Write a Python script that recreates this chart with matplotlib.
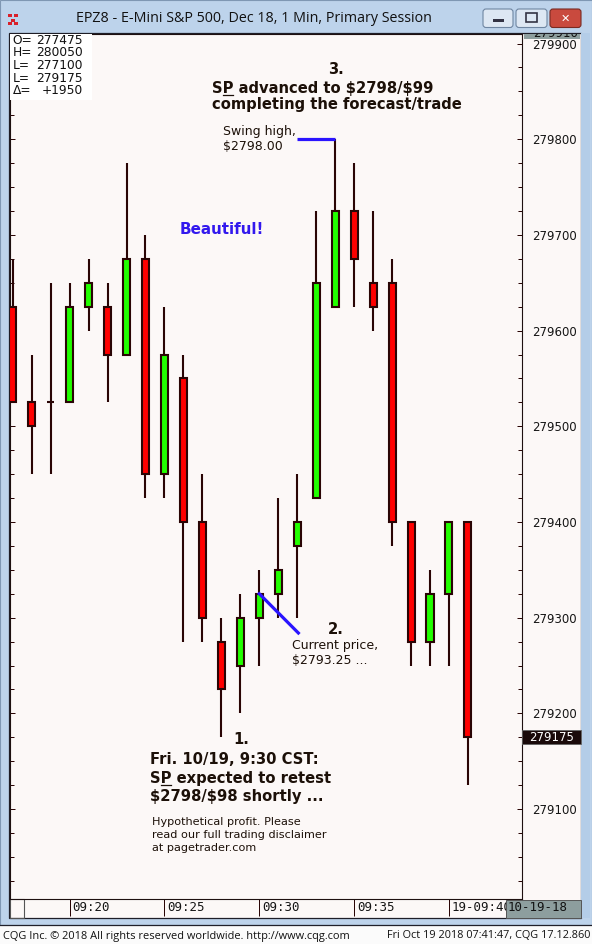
import numpy as np
import matplotlib.pyplot as plt
import matplotlib.transforms as mtransforms
from matplotlib.patches import Rectangle, FancyBboxPatch
from matplotlib.ticker import MultipleLocator, FormatStrFormatter

plt.rcParams['text.parse_math'] = False

# 1 min bars, EPZ8, prices in CQG units
bar_open  = [279625, 279525, 279525, 279525, 279625, 279625, 279575, 279675, 279450, 279550,
             279400, 279275, 279250, 279300, 279325, 279375, 279425, 279625, 279725, 279650,
             279650, 279400, 279275, 279325, 279400]
bar_high  = [279675, 279575, 279650, 279650, 279675, 279650, 279775, 279700, 279625, 279575,
             279450, 279300, 279325, 279350, 279425, 279450, 279725, 279800, 279775, 279725,
             279675, 279400, 279350, 279400, 279400]
bar_low   = [279525, 279450, 279450, 279525, 279600, 279525, 279575, 279425, 279425, 279275,
             279275, 279175, 279200, 279250, 279300, 279300, 279425, 279625, 279625, 279600,
             279375, 279250, 279250, 279250, 279125]
bar_close = [279525, 279500, 279525, 279625, 279650, 279575, 279675, 279450, 279575, 279400,
             279300, 279225, 279300, 279325, 279350, 279400, 279650, 279725, 279675, 279625,
             279400, 279275, 279325, 279400, 279175]

tick_bars = [3, 8, 13, 18, 23]
tick_labels = ['09:20', '09:25', '09:30', '09:35', '19-09:40']

swing_bars = [15, 17]
swing_high = 279800
current_bars = [13, 15.06]
current_line = [279325, 279284]

ohlc_names = ['O=', 'H=', 'L=', 'L=', '\u0394=']
ohlc_values = ['277475', '280050', '277100', '279175', '+1950']

UP = '#22ff00'
DOWN = '#ff0000'
EDGE = '#2a0505'
BG = '#fcf8f7'
FRAME = '#bdd3eb'
BLUE = '#2a14ff'
INK = '#1c1008'

W, H = 592, 944
fig = plt.figure(figsize=(W / 100, H / 100), dpi=100)

# window chrome, drawn in pixel coords
bg = fig.add_axes([0, 0, 1, 1])
bg.set_xlim(0, W)
bg.set_ylim(H, 0)
bg.axis('off')

def box(a, x0, y0, x1, y1, **kw):
    p = Rectangle((x0, y0), x1 - x0, y1 - y0, **kw)
    a.add_patch(p)
    return p

box(bg, 0, 0, W, 925, fc=FRAME, ec='#7f97b3', lw=0.8)
box(bg, 9, 33, 581, 918, fc=BG, ec='#1e1e28', lw=0.9)
box(bg, 581, 33, 590, 918, fc='#b4cde8', ec='none')
box(bg, 0, 925, W, H, fc='#fbfbfb', ec='none')
bg.plot([0, W], [925, 925], color='#20202a', lw=0.9)

# title bar
for (px, py) in [(8, 14), (14, 14), (11, 19), (8, 22), (14, 22)]:
    box(bg, px, py, px + 4, py + 3, fc='#d8202a', ec='none')
bg.text(254, 19, 'EPZ8 - E-Mini S&P 500, Dec 18, 1 Min, Primary Session',
        ha='center', va='center', fontsize=10.3, family='Open Sans', color='#111')
for x0, x1 in [(483, 513), (516, 547)]:
    bg.add_patch(FancyBboxPatch((x0, 9), x1 - x0, 18.5, boxstyle='round,pad=0,rounding_size=3',
                                fc='#dde7f3', ec='#6f86a2', lw=0.8))
box(bg, 493, 19, 504, 22, fc='#334', ec='none')
box(bg, 526, 13, 537, 22, fc='none', ec='#334', lw=1.2)
bg.add_patch(FancyBboxPatch((550, 9), 31, 18.5, boxstyle='round,pad=0,rounding_size=3',
                            fc='#c94a3e', ec='#7a2a22', lw=0.8))
bg.text(565.5, 18.5, '\u2715', ha='center', va='center', fontsize=8, color='white',
        fontweight='bold', family='DejaVu Sans')

# status bar
bg.text(3, 936, 'CQG Inc. \u00a9 2018 All rights reserved worldwide. http://www.cqg.com',
        ha='left', va='center', fontsize=7.9, family='Open Sans', color='#111')
bg.text(590, 936, 'Fri Oct 19 2018 07:41:47, CQG 17.12.860',
        ha='right', va='center', fontsize=7.8, family='Open Sans', color='#111')

# small empty cell left of time axis
box(bg, 9.5, 899, 23.5, 917.5, fc='none', ec='#555', lw=0.8)

# price chart
ax = fig.add_axes([10 / W, 1 - 899 / H, 512 / W, 865 / H], zorder=2)
ax.set_facecolor('none')
n = len(bar_open)
x = np.arange(n)
o = np.array(bar_open)
c = np.array(bar_close)
colors = [UP if cc > oo else DOWN for oo, cc in zip(o, c)]
ax.vlines(x, bar_low, bar_high, color=EDGE, lw=1.5, zorder=2)
ax.bar(x, np.abs(c - o), bottom=np.minimum(o, c), width=0.37, color=colors,
       edgecolor=EDGE, linewidth=1.5, zorder=3)

ax.set_xlim(-0.142, 26.85)
ax.set_ylim(279006, 279910)
for s in ax.spines.values():
    s.set_color('#1e1010')
    s.set_linewidth(0.8)

ax.yaxis.set_major_locator(MultipleLocator(100))
ax.yaxis.set_minor_locator(MultipleLocator(25))
ax.yaxis.set_major_formatter(FormatStrFormatter('%d'))
ax.tick_params(axis='y', which='both', direction='in', left=True, right=True,
               labelleft=False, labelright=True, color=EDGE, width=0.72)
ax.tick_params(axis='y', which='major', length=3.6, pad=7.2, labelsize=8.5, labelcolor='#151515')
ax.tick_params(axis='y', which='minor', length=2.9)

ax.set_xticks(tick_bars)
ax.tick_params(axis='x', direction='out', length=12.4, width=0.72, color=EDGE, labelbottom=False)
off = mtransforms.ScaledTranslation(0.03, -0.083, fig.dpi_scale_trans)
for tb, tl in zip(tick_bars, tick_labels):
    ax.text(tb, 0, tl, transform=ax.get_xaxis_transform() + off, ha='left', va='center',
            fontsize=9, family='DejaVu Sans Mono', color='#151515', clip_on=False)

# last price box on price scale
last = bar_close[-1]
ytr = ax.get_yaxis_transform()
ax.add_patch(Rectangle((1.0, last - 7.3), 59 / 512, 14.6, transform=ytr, fc='#1a0a0a',
                       ec='#666', lw=0.6, clip_on=False, zorder=6))
ax.text(1.0 + 30 / 512, last, str(last), transform=ytr, ha='center', va='center',
        fontsize=8.5, color='white', clip_on=False, zorder=7)

# blue drawing tools
ax.plot(swing_bars, [swing_high, swing_high], color=BLUE, lw=2.3, solid_capstyle='butt', zorder=4)
ax.plot(current_bars, current_line, color=BLUE, lw=2.3, zorder=4)

# overlay (texts, boxes), pixel coords
ov = fig.add_axes([0, 0, 1, 1], zorder=5)
ov.set_xlim(0, W)
ov.set_ylim(H, 0)
ov.axis('off')
ov.patch.set_alpha(0)

# OHLC box
box(ov, 10, 34, 92, 100, fc='white', ec='none')
for k, (nm, vl) in enumerate(zip(ohlc_names, ohlc_values)):
    yy = 40 + k * 12.7
    ov.text(12.5, yy, nm, ha='left', va='center', fontsize=8.8, color='#111')
    ov.text(83, yy, vl, ha='right', va='center', fontsize=8.8, color='#111')

# clipped top value box
clip = box(ov, 524, 34, 580, 38.5, fc='#8d9e9e', ec='none')
t = ov.text(533, 33.5, '279910', ha='left', va='center', fontsize=8.5, color='#111', clip_on=True)
t.set_clip_path(clip)

# date box at end of time axis
box(ov, 506, 900, 581, 917.5, fc='#8d9e9e', ec='#555', lw=0.7)
ov.text(508, 907.5, '10-19-18', ha='left', va='center', fontsize=9,
        family='DejaVu Sans Mono', color='#111')

bold = dict(fontsize=10.6, fontweight='bold', color=INK, va='center', ha='left')
norm = dict(fontsize=9, color=INK, va='center', ha='left')
small = dict(fontsize=8.1, color=INK, va='center', ha='left')

renderer = fig.canvas.get_renderer()

def underline(xp, yp, prefix, ch, kw):
    t1 = ov.text(xp, yp, prefix, **kw)
    t2 = ov.text(xp, yp, prefix + ch, **kw)
    w1 = t1.get_window_extent(renderer).width
    w2 = t2.get_window_extent(renderer).width
    t1.remove()
    t2.remove()
    ov.plot([xp + w1 + 0.5, xp + w2 - 0.5], [yp + 6.5, yp + 6.5], color=INK, lw=0.9)

ov.text(336, 69, '3.', **{**bold, 'ha': 'center'})
ov.text(212, 88, 'SP advanced to $2798/$99', **bold)
underline(212, 88, 'S', 'P', bold)
ov.text(212, 105, 'completing the forecast/trade', **bold)

ov.text(223, 131, 'Swing high,', **norm)
ov.text(223, 146, '$2798.00', **norm)

ov.text(180, 230, 'Beautiful!', **{**bold, 'color': '#3218ee', 'fontsize': 10.9})

ov.text(336, 629, '2.', **{**bold, 'ha': 'center'})
ov.text(292, 646, 'Current price,', **norm)
ov.text(292, 660, '$2793.25 ...', **norm)

ov.text(241, 740, '1.', **{**bold, 'ha': 'center'})
ov.text(150, 760, 'Fri. 10/19, 9:30 CST:', **bold)
ov.text(150, 778, 'SP expected to retest', **bold)
underline(150, 778, 'S', 'P', bold)
ov.text(150, 796, '$2798/$98 shortly ...', **bold)

ov.text(152, 822, 'Hypothetical profit. Please', **small)
ov.text(152, 835, 'read our full trading disclaimer', **small)
ov.text(152, 848, 'at pagetrader.com', **small)

fig.savefig('out.png', dpi=100)
